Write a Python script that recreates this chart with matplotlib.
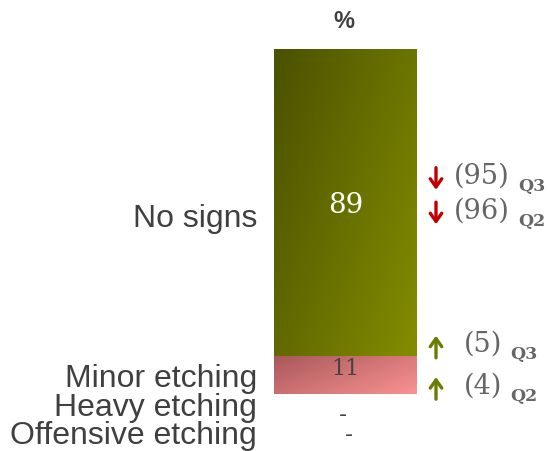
import numpy as np
import matplotlib.pyplot as plt
from matplotlib.colors import LinearSegmentedColormap

# stacked share of responses
categories = ['No signs', 'Minor etching', 'Heavy etching', 'Offensive etching']
values = [89, 11, 0, 0]
value_labels = ['89', '11', '-', '-']

# earlier quarters for comparison
prev_q3 = [95, 5]
prev_q2 = [96, 4]

seg_colors = [('#4a5100', '#848d00'), ('#a9585a', '#fa9292')]

fig = plt.figure(figsize=(5.5, 4.52), dpi=100)
ax = fig.add_axes([0, 57 / 452, 1, 345 / 452])
ax.set_xlim(0, 550)
ax.set_ylim(100, 0)
ax.axis('off')

bar_x = 345.5
bar_w = 143
bottoms = np.cumsum([0] + values[:-1])
bars = ax.bar([bar_x] * len(values), values, width=bar_w, bottom=bottoms,
              color='none', edgecolor='none')

# diagonal gradient fill for each drawn segment
for i, (bar, (c0, c1)) in enumerate(zip(bars[:2], seg_colors)):
    x0, y0 = bar.get_x(), bar.get_y()
    w, h = bar.get_width(), bar.get_height()
    u = np.linspace(0, 1, 200)
    v = np.linspace(0, 1, 200)
    uu, vv = np.meshgrid(u, v)
    grad = (uu * 0.6 + vv * 0.4)
    cmap = LinearSegmentedColormap.from_list('g%d' % i, [c0, c1])
    im = ax.imshow(grad, cmap=cmap, extent=(x0, x0 + w, y0 + h, y0),
                   aspect='auto', origin='upper', zorder=1)
    im.set_clip_path(bar)
    bar.set_zorder(2)

ax.set_xlim(0, 550)
ax.set_ylim(100, 0)

# values inside the bars
ax.text(bar_x, bottoms[0] + values[0] / 2 + 0.7, value_labels[0], ha='center', va='center',
        color='white', fontsize=20, family='DejaVu Serif', zorder=3)
ax.text(bar_x, bottoms[1] + 3.4, value_labels[1], ha='center', va='center',
        color='#444444', fontsize=16, family='DejaVu Serif', zorder=3)
ax.text(bar_x - 3, 105.7, value_labels[2], ha='center', va='center',
        color='#444444', fontsize=16, clip_on=False)
ax.text(bar_x + 3, 111.7, value_labels[3], ha='center', va='center',
        color='#444444', fontsize=16, clip_on=False)

# category labels
label_y = [48.9, 95.4, 103.8, 111.9]
for lab, y in zip(categories, label_y):
    ax.text(257, y, lab, ha='right', va='center', color='#404040',
            fontsize=23, family='Liberation Sans', clip_on=False)

ax.text(344, -8.2, '%', ha='center', va='center', color='#404040',
        fontsize=17, fontweight='bold', family='Liberation Sans', clip_on=False)


def trend(y, cur, prev, quarter, x_num, x_q):
    down = cur < prev
    col = '#c00000' if down else '#6a7d00'
    ya = y + 1.0
    top, bot = ya - 3.2, ya + 3.2
    start, end = (top, bot) if down else (bot, top)
    ax.annotate('', xy=(436, end), xytext=(436, start), annotation_clip=False,
                arrowprops=dict(arrowstyle='->,head_length=0.45,head_width=0.32',
                                color=col, lw=2.4, mutation_scale=13,
                                shrinkA=0, shrinkB=0))
    ax.text(x_num, y, '(%d)' % prev, ha='left', va='center', color='#666666',
            fontsize=19.5, family='DejaVu Serif', clip_on=False)
    ax.text(x_q, y + 3.1, quarter, ha='left', va='center', color='#666666',
            fontsize=12.5, fontweight='bold', family='DejaVu Serif', clip_on=False)


trend(36.6, values[0], prev_q3[0], 'Q3', 454, 518)
trend(46.6, values[0], prev_q2[0], 'Q2', 454, 518)
trend(85.3, values[1], prev_q3[1], 'Q3', 464, 510)
trend(97.3, values[1], prev_q2[1], 'Q2', 464, 510)

fig.savefig('out.png', dpi=100)
